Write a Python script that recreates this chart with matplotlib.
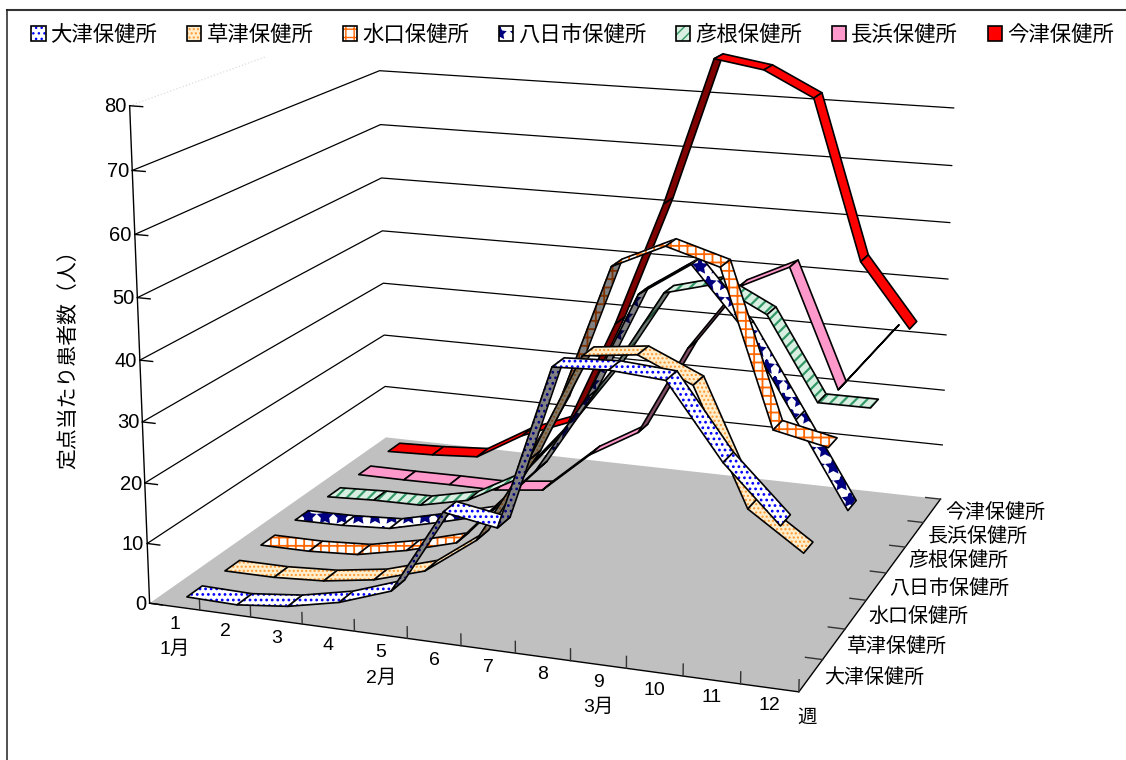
import numpy as np
import matplotlib as mpl
mpl.use("Agg")
import matplotlib.pyplot as plt
from matplotlib.lines import Line2D
from matplotlib.patches import Patch
from matplotlib.legend_handler import HandlerTuple
from mpl_toolkits.mplot3d.art3d import Poly3DCollection

plt.rcParams['font.family'] = ['Liberation Sans', 'Noto Sans CJK JP']

weeks = np.arange(1, 13)
month_labels = {1: '1月', 5: '2月', 9: '3月'}
value_ticks = [0, 10, 20, 30, 40, 50, 60, 70, 80]
station_names = ['大津保健所', '草津保健所', '水口保健所', '八日市保健所', '彦根保健所', '長浜保健所', '今津保健所']

otsu = [0.3, 0.1, 1.0, 2.8, 5.8, 19.7, 18.2, 44.4, 44.8, 44.1, 32.5, 23.8]
kusatsu = [0.1, 0.1, 0.6, 1.9, 4.5, 10.7, 24.9, 42.6, 43.6, 39.7, 21.1, 15.1]
minakuchi = [0.1, 0.1, 0.6, 2.4, 4.8, 14.0, 30.1, 53.5, 57.5, 54.9, 29.7, 27.8]
yokaichi = [0.2, 0.3, 0.8, 2.9, 5.2, 14.1, 27.5, 45.8, 51.5, 41.6, 27.5, 13.3]
hikone = [0.2, 0.6, 0.7, 2.6, 7.3, 17.2, 28.8, 42.8, 45.1, 40.7, 26.6, 26.6]
nagahama = [0.2, 0.2, 0.3, 0.3, 1.3, 8.8, 13.8, 29.8, 41.4, 45.6, 25.1, 35.9]
imazu = [0.6, 0.9, 1.5, 6.5, 9.9, 29.1, 51.6, 77.7, 76.3, 72.0, 44.2, 33.1]

series = [otsu, kusatsu, minakuchi, yokaichi, hikone, nagahama, imazu]
face_colors = ['#ffffff', '#ffeecc', '#ffffff', '#ffffff', '#d8efe2', '#ff99cc', '#ff0000']
hatch_colors = ['#0000ff', '#ff9933', '#ff6600', '#000080', '#339966', '#ff99cc', '#ff0000']
hatches = ['...', '....', '++', '*', '///', None, None]
hatch_widths = [1.2, 1.0, 1.3, 2.0, 1.6, 1.0, 1.0]

# camera: (week, station, value) -> pixel
camera = np.array([[49.40172419315466, 44.76409658046677, -0.32520248544769226, 104.09764021818793],
                   [2.9016435171785857, -11.889274542467495, -6.343098874475955, 614.03310884599],
                   [-0.006595640126239033, 0.027558218474782237, -0.0005630386374733121, 1.0]])

half_width = 0.2


def screen(w, s, v):
    h = camera @ [w, s, v, 1]
    return h[0] / h[2], h[1] / h[2]


def shade(color, factor):
    return tuple(c * factor for c in mpl.colors.to_rgb(color))


fig = plt.figure(figsize=(11.26, 7.6), dpi=100)
ax = fig.add_axes([0, -183 / 760, 1, 1126 / 760], projection='3d')
ax.set_axis_off()
ax.set_proj_type('ortho')
ax.computed_zorder = False
ax.set_xlim(0.5, 12.5)
ax.set_ylim(0.5, 7.5)
ax.set_zlim(0, 80)
ax.viewLim.intervalx = (0, 1126)
ax.viewLim.intervaly = (943, -183)
projection = np.array([camera[0], camera[1], [0, 0, 1e-3, 0], camera[2]])
ax.get_proj = lambda: projection

# floor
floor = Poly3DCollection([[(0.5, 0.5, 0), (12.5, 0.5, 0), (12.5, 7.5, 0), (0.5, 7.5, 0)]],
                         facecolors='#c0c0c0', edgecolors='none', zorder=1)
ax.add_collection3d(floor, autolim=False)

# gridlines on the two walls
for v in value_ticks[1:-1]:
    ax.plot([0.5, 0.5, 12.5], [0.5, 7.5, 7.5], [v, v, v], color='black', lw=0.9, zorder=2)
ax.plot([0.5, 0.5], [0.5, 4.0], [80, 80], color='#dddddd', lw=0.9, ls=':', zorder=2)

# axis lines and tick marks
ax.plot([0.5, 0.5], [0.5, 0.5], [0, 80], color='black', lw=1, zorder=3)
ax.plot([0.5, 12.5, 12.5], [0.5, 0.5, 7.5], [0, 0, 0], color='black', lw=1, zorder=3)
for v in value_ticks:
    ax.plot([0.5, 0.75], [0.5, 0.5], [v, v], color='black', lw=1, zorder=3)
for w in weeks:
    ax.plot([w + 0.5, w + 0.5], [0.5, 0.5], [0, 1.9], color='#333333', lw=1, zorder=3)
for s in range(1, 8):
    ax.plot([12.5, 12.2], [s + 0.5, s + 0.5], [0, 0], color='#333333', lw=1, zorder=3)

# ribbons, back to front
order = 10
for s in range(7, 0, -1):
    values = series[s - 1]
    for i in range(len(weeks) - 1):
        w0, w1 = weeks[i], weeks[i + 1]
        v0, v1 = values[i], values[i + 1]
        quad = [(w0, s - half_width, v0), (w0, s + half_width, v0),
                (w1, s + half_width, v1), (w1, s - half_width, v1)]
        # steep rising segments face away from the light
        factor = 0.5 if v1 - v0 > 10 else 1.0
        with mpl.rc_context({'hatch.linewidth': hatch_widths[s - 1]}):
            fill = Poly3DCollection([quad], facecolors=[shade(face_colors[s - 1], factor)],
                                    edgecolors=[shade(hatch_colors[s - 1], factor)],
                                    linewidths=0, hatch=hatches[s - 1], zorder=order)
        outline = Poly3DCollection([quad], facecolors=[(0, 0, 0, 0)], edgecolors='black',
                                   linewidths=1.2, zorder=order + 1)
        ax.add_collection3d(fill, autolim=False)
        ax.add_collection3d(outline, autolim=False)
        order += 2


def label(px, py, text, **kwargs):
    fig.text(px / 1126, 1 - py / 760, text, **kwargs)


for v in value_ticks:
    px, py = screen(0.5, 0.5, v)
    label(px - 3, py + 1, str(v), ha='right', va='center', fontsize=14.5)
for w in weeks:
    px, py = screen(w, 0.5, 0)
    label(px, py + 18, str(w), ha='center', va='center', fontsize=14)
    if w in month_labels:
        label(px, py + 43, month_labels[w], ha='center', va='center', fontsize=14)
for s, name in enumerate(station_names, start=1):
    px, py = screen(12.5, s, 0)
    label(px + 13, py + 2, name, ha='left', va='center', fontsize=14.4)
px, py = screen(12.5, 0.5, 0)
label(px + 8, py + 26, '週', ha='center', va='center', fontsize=14)
label(68, 354, '定点当たり患者数（人）', ha='center', va='center', rotation=90, fontsize=15)

# legend
handles = []
for i in range(7):
    with mpl.rc_context({'hatch.linewidth': min(hatch_widths[i], 1.2)}):
        handles.append((Patch(facecolor=face_colors[i], edgecolor=hatch_colors[i], lw=0, hatch=hatches[i]),
                        Patch(facecolor='none', edgecolor='black', lw=1.2)))
fig.legend(handles, station_names, ncols=7, frameon=False, loc='upper left',
           bbox_to_anchor=(31 / 1126, 1 - 25 / 760), borderpad=0, borderaxespad=0,
           fontsize=15.4, handlelength=0.68, handleheight=0.68, handletextpad=0.23,
           columnspacing=1.38, handler_map={tuple: HandlerTuple(ndivide=1, pad=0)})

# chart frame
fig.add_artist(Line2D([7.5 / 1126, 1], [1 - 9.5 / 760, 1 - 9.5 / 760], color='#333333', lw=1.5))
fig.add_artist(Line2D([7.5 / 1126, 7.5 / 1126], [0, 1 - 9.5 / 760], color='#222222', lw=1.1))

fig.savefig('out.png', dpi=100)
